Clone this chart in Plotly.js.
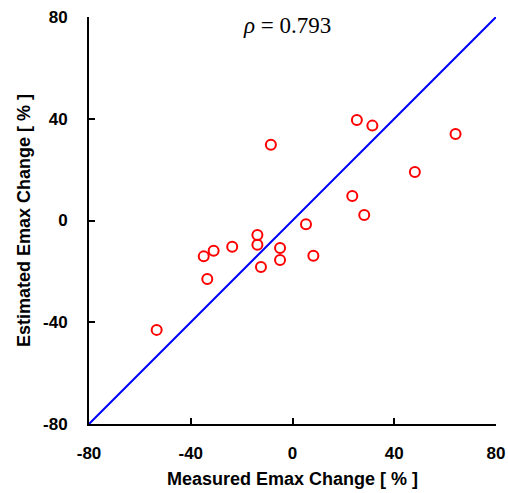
<!DOCTYPE html>
<html><head><meta charset="utf-8">
<script src="https://cdn.plot.ly/plotly-3.0.1.min.js"></script>
<style>html,body{margin:0;padding:0;background:#fff;}#chart{width:508px;height:493px;}</style>
</head><body><div id="chart"></div>
<script>
const measured = [-8.5, 5.3, -13.8, -13.8, -23.7, -31.0, -34.9, -4.9, -4.9, -12.4, 8.2, -33.5, -53.4, 25.3, 31.4, 64.1, 48.1, 23.5, 28.2];
const estimated = [29.8, -1.5, -5.7, -9.5, -10.3, -11.9, -14.1, -10.8, -15.5, -18.3, -13.9, -23.0, -43.0, 39.5, 37.3, 34.0, 19.1, 9.6, 2.2];
const identityLine = [-80, 80];
const tickVals = [-80, -40, 0, 40, 80];
const rhoText = "<i>ρ</i> = 0.793";

const tickFont = {family: "Liberation Sans, Arial, sans-serif", size: 17, color: "#000", weight: "bold"};
const titleFont = {family: "Liberation Sans, Arial, sans-serif", size: 18, color: "#000", weight: "bold"};
const common = {
  range: [-80, 80], tickvals: tickVals, ticktext: tickVals.map(String),
  ticks: "inside", ticklen: 6, tickwidth: 2, tickcolor: "#000",
  showline: true, linewidth: 2, linecolor: "#000",
  showgrid: false, zeroline: false, fixedrange: true,
  tickfont: tickFont
};
const data = [
  {x: identityLine, y: identityLine, mode: "lines", line: {color: "#0000ff", width: 2}, hoverinfo: "skip"},
  {x: measured, y: estimated, mode: "markers", type: "scatter",
   marker: {symbol: "circle-open", size: 10, color: "#ff0000", line: {width: 2, color: "#ff0000"}}}
];
const layout = {
  width: 508, height: 493, showlegend: false,
  margin: {l: 89, r: 12, t: 17, b: 69},
  paper_bgcolor: "#fff", plot_bgcolor: "#fff",
  xaxis: Object.assign({}, common, {
    ticklabelstandoff: 13,
    title: {text: "Measured Emax Change [ % ]", font: titleFont, standoff: 10}
  }),
  yaxis: Object.assign({}, common, {
    ticklabelstandoff: 16,
    title: {text: "Estimated Emax Change [ % ]", font: titleFont, standoff: 8}
  }),
  annotations: [{
    x: -2.2, y: 76.5, xref: "x", yref: "y", text: rhoText, showarrow: false,
    xanchor: "center", yanchor: "middle",
    font: {family: "Liberation Serif, Times New Roman, serif", size: 23, color: "#000"}
  }]
};
Plotly.newPlot("chart", data, layout, {staticPlot: true, displayModeBar: false});
</script>
</body></html>
